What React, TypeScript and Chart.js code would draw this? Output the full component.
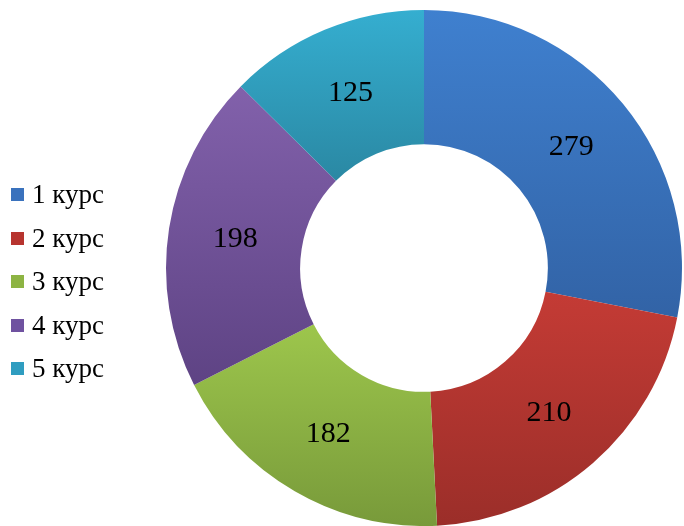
import React, { useEffect, useRef } from "react";
import { Chart, registerables } from "chart.js";

Chart.register(...registerables);

const categories = ["1 курс", "2 курс", "3 курс", "4 курс", "5 курс"];
const values = [279, 210, 182, 198, 125];
const topColors = ["#3F80CF", "#C43B35", "#9DC64C", "#8261AB", "#35AED0"];
const bottomColors = ["#3263A6", "#9B2E29", "#789A3A", "#5E4384", "#2A88A3"];
const legendColors = ["#3A72BD", "#B7342F", "#8DB443", "#6F52A0", "#2F9DC0"];

const CUTOUT = 0.48;

function sliceGradient(ctx: any) {
  const chart = ctx.chart;
  const area = chart.chartArea;
  if (!area) return topColors[ctx.dataIndex];
  const i = ctx.dataIndex;
  const total = values.reduce((a, b) => a + b, 0);
  let start = 0;
  for (let k = 0; k < i; k++) start += values[k];
  const a0 = (start / total) * Math.PI * 2;
  const a1 = ((start + values[i]) / total) * Math.PI * 2;
  const cy = (area.top + area.bottom) / 2;
  const outer = Math.min(area.right - area.left, area.bottom - area.top) / 2;
  const inner = outer * CUTOUT;
  let minY = Infinity;
  let maxY = -Infinity;
  for (let s = 0; s <= 60; s++) {
    const a = a0 + ((a1 - a0) * s) / 60;
    for (const r of [inner, outer]) {
      const y = cy - r * Math.cos(a);
      minY = Math.min(minY, y);
      maxY = Math.max(maxY, y);
    }
  }
  const g = chart.ctx.createLinearGradient(0, minY, 0, maxY);
  g.addColorStop(0, topColors[i]);
  g.addColorStop(1, bottomColors[i]);
  return g;
}

const labelPlugin = {
  id: "sliceLabels",
  afterDatasetsDraw(chart: any) {
    const ctx = chart.ctx;
    const meta = chart.getDatasetMeta(0);
    ctx.save();
    ctx.fillStyle = "#000";
    ctx.font = '30px "Liberation Serif", "Times New Roman", serif';
    ctx.textAlign = "center";
    ctx.textBaseline = "middle";
    meta.data.forEach((arc: any, i: number) => {
      const p = arc.tooltipPosition();
      ctx.fillText(String(values[i]), p.x, p.y + 1);
    });
    ctx.restore();
  },
};

export default function App() {
  const ref = useRef<HTMLCanvasElement | null>(null);
  useEffect(() => {
    if (!ref.current) return;
    const chart = new Chart(ref.current, {
      type: "doughnut",
      data: {
        labels: categories,
        datasets: [
          {
            data: values,
            backgroundColor: sliceGradient as any,
            borderWidth: 0,
          },
        ],
      },
      options: {
        animation: false,
        responsive: false,
        maintainAspectRatio: false,
        cutout: CUTOUT * 100 + "%",
        layout: { padding: { left: 166, right: 2, top: 10, bottom: 0 } },
        plugins: {
          legend: { display: false },
          tooltip: { enabled: false },
        },
      },
      plugins: [labelPlugin],
    });
    return () => chart.destroy();
  }, []);

  return (
    <div style={{ position: "fixed", left: 0, top: 0, width: 684, height: 526, background: "#fff" }}>
      <canvas ref={ref} width={684} height={526} style={{ width: 684, height: 526 }} />
      <div
        style={{
          position: "absolute",
          left: 11,
          top: 173,
          fontFamily: '"Liberation Serif", "Times New Roman", serif',
          fontSize: 27,
          color: "#000",
        }}
      >
        {categories.map((c, i) => (
          <div key={c} style={{ display: "flex", alignItems: "center", height: 43.5 }}>
            <span
              style={{
                display: "inline-block",
                width: 13,
                height: 13,
                background: legendColors[i],
                marginRight: 8,
              }}
            />
            <span>{c}</span>
          </div>
        ))}
      </div>
    </div>
  );
}
